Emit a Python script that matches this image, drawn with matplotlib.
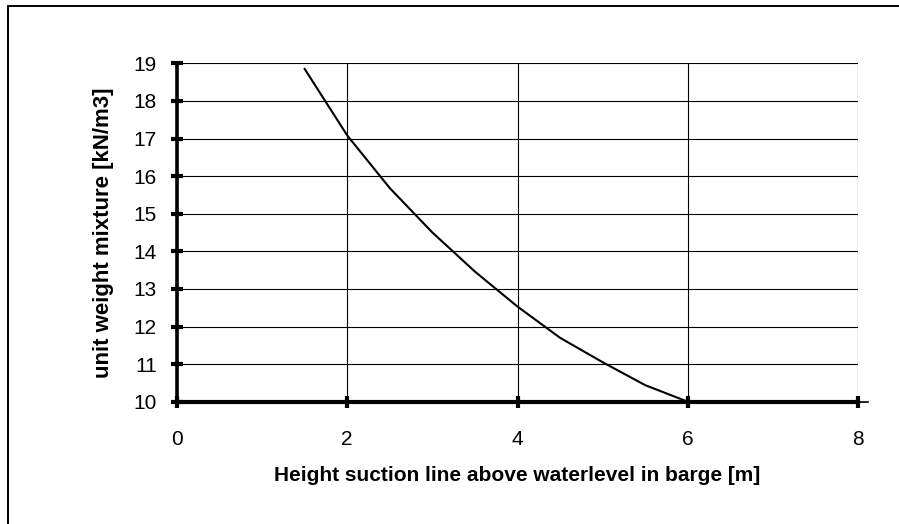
import matplotlib.pyplot as plt
from matplotlib.patches import Rectangle

plt.rcParams["font.family"] = ["Liberation Sans", "DejaVu Sans"]

# height of suction line above waterlevel [m] vs unit weight of mixture [kN/m3]
height = [1.5, 2.0, 2.5, 3.0, 3.5, 4.0, 4.5, 5.0, 5.5, 6.0]
unit_weight = [18.85, 17.08, 15.68, 14.5, 13.46, 12.53, 11.7, 11.05, 10.44, 10.0]

x_ticks = [0, 2, 4, 6, 8]
y_ticks = [10, 11, 12, 13, 14, 15, 16, 17, 18, 19]

fig = plt.figure(figsize=(8.99, 5.24), dpi=100)
ax = fig.add_axes([177 / 899, 1 - 401.7 / 524, 681 / 899, 338.4 / 524])

ax.plot(height, unit_weight, color="black", lw=1.5, zorder=3)

ax.set_xlim(0, 8)
ax.set_ylim(10, 19)
ax.set_xticks(x_ticks)
ax.set_yticks(y_ticks)
ax.grid(True, color="black", lw=0.8)
ax.set_axisbelow(True)

for s in ["top", "right"]:
    ax.spines[s].set_visible(False)
ax.spines["left"].set_linewidth(2.6)
ax.spines["bottom"].set_linewidth(3.0)
ax.spines["left"].set_zorder(4)
ax.spines["bottom"].set_zorder(4)

# little stub of the x axis past the last tick
ax.plot([8, 8.12], [10, 10], color="black", lw=1.2, clip_on=False)

ax.tick_params(axis="both", direction="inout", length=9, width=3, labelsize=15,
               color="black")
ax.tick_params(axis="y", pad=10)
ax.tick_params(axis="x", pad=16)

ax.set_xlabel("Height suction line above waterlevel in barge [m]",
              fontsize=15, fontweight="bold", labelpad=12)
ax.set_ylabel("unit weight mixture [kN/m3]", fontsize=16, fontweight="bold",
              labelpad=14)

# outer chart frame (cut off at the right and bottom)
fig.add_artist(Rectangle((8 / 899, -0.1), 1.2, 1.1 - 6 / 524, transform=fig.transFigure,
                         fill=False, edgecolor="black", lw=1.4))

plt.savefig("out.png", dpi=100)
